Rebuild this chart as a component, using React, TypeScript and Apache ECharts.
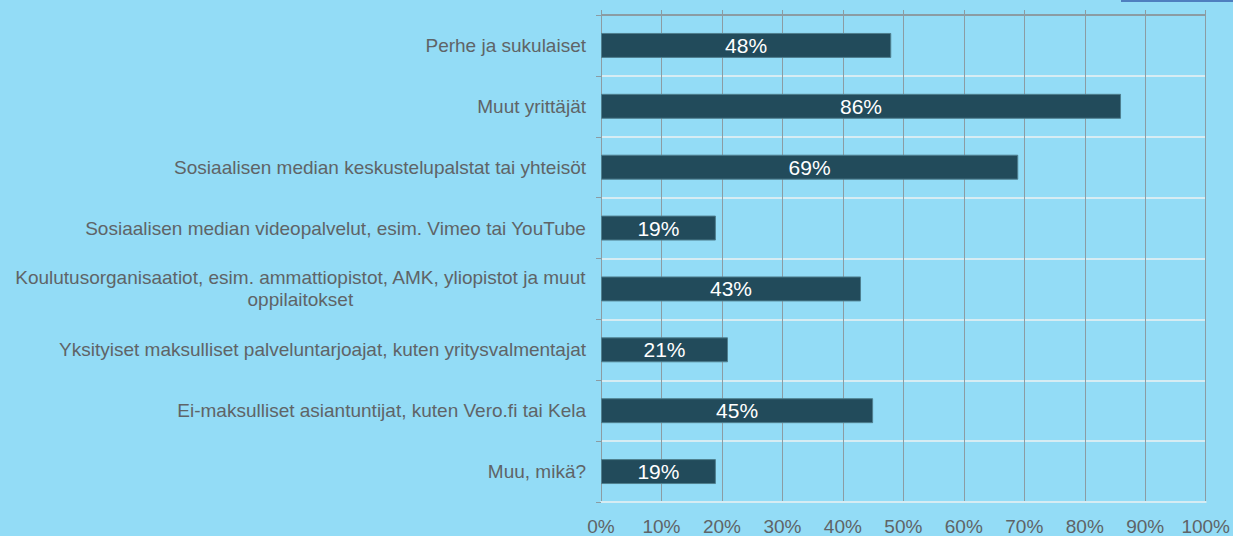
import React, { useEffect, useRef } from "react";
import * as echarts from "echarts";

const categories = [
  "Perhe ja sukulaiset",
  "Muut yrittäjät",
  "Sosiaalisen median keskustelupalstat tai yhteisöt",
  "Sosiaalisen median videopalvelut, esim. Vimeo tai YouTube",
  "Koulutusorganisaatiot, esim. ammattiopistot, AMK, yliopistot ja muut\noppilaitokset",
  "Yksityiset maksulliset palveluntarjoajat, kuten yritysvalmentajat",
  "Ei-maksulliset asiantuntijat, kuten Vero.fi tai Kela",
  "Muu, mikä?",
];
const values = [48, 86, 69, 19, 43, 21, 45, 19];

const GRID_GRAY = "#8b9ca3";
const LIGHT = "#d6ecf3";
const TEXT = "#5f6467";
const FONT = "Liberation Sans, Arial, sans-serif";

export default function App() {
  const ref = useRef<HTMLDivElement>(null);
  useEffect(() => {
    document.body.style.margin = "0";
    const chart = echarts.init(ref.current!, null, { renderer: "svg" });
    chart.setOption({
      animation: false,
      backgroundColor: "#93dcf6",
      grid: { left: 601, top: 15, width: 607, height: 489, containLabel: false },
      graphic: [
        {
          type: "rect",
          shape: { x: 1122, y: -12, width: 200, height: 13 },
          style: { fill: "#ffffff", stroke: "#4f7fbf", lineWidth: 2 },
          silent: true,
        },
      ],
      xAxis: [
        {
          type: "value",
          min: 0,
          max: 100,
          interval: 10,
          position: "bottom",
          axisLine: { show: true, lineStyle: { color: LIGHT, width: 2 } },
          axisTick: { show: false },
          axisLabel: {
            formatter: "{value}%",
            color: TEXT,
            fontSize: 19,
            fontFamily: FONT,
            margin: 15,
          },
          splitLine: { show: true, lineStyle: { color: GRID_GRAY, width: 1 } },
        },
        {
          type: "value",
          min: 0,
          max: 100,
          interval: 10,
          position: "top",
          axisLine: { show: false },
          axisTick: { show: true, length: 5, lineStyle: { color: GRID_GRAY } },
          axisLabel: { show: false },
          splitLine: { show: false },
        },
      ],
      yAxis: {
        type: "category",
        inverse: true,
        data: categories,
        axisLine: { show: true, lineStyle: { color: GRID_GRAY, width: 1 } },
        axisTick: { show: true, length: 5, lineStyle: { color: GRID_GRAY } },
        splitLine: {
          show: true,
          lineStyle: {
            color: [GRID_GRAY, LIGHT, LIGHT, LIGHT, LIGHT, LIGHT, LIGHT, LIGHT, LIGHT],
            width: 2,
          },
        },
        axisLabel: {
          margin: 15,
          color: TEXT,
          fontSize: 19,
          fontFamily: FONT,
          formatter: (v: string) =>
            v
              .split("\n")
              .map((l) => "{c|" + l + "}")
              .join("\n"),
          rich: {
            c: {
              align: "center",
              color: TEXT,
              fontSize: 19,
              lineHeight: 22,
              fontFamily: FONT,
            },
          },
        },
      },
      series: [
        {
          type: "bar",
          data: values,
          xAxisIndex: 0,
          barWidth: "41%",
          itemStyle: { color: "#224b5b", borderColor: "#4f7f8f", borderWidth: 1 },
          label: {
            show: true,
            position: "inside",
            formatter: "{c}%",
            color: "#ffffff",
            fontSize: 21,
            fontFamily: FONT,
          },
        },
      ],
    });
    return () => chart.dispose();
  }, []);
  return <div ref={ref} style={{ width: 1233, height: 536 }} />;
}
